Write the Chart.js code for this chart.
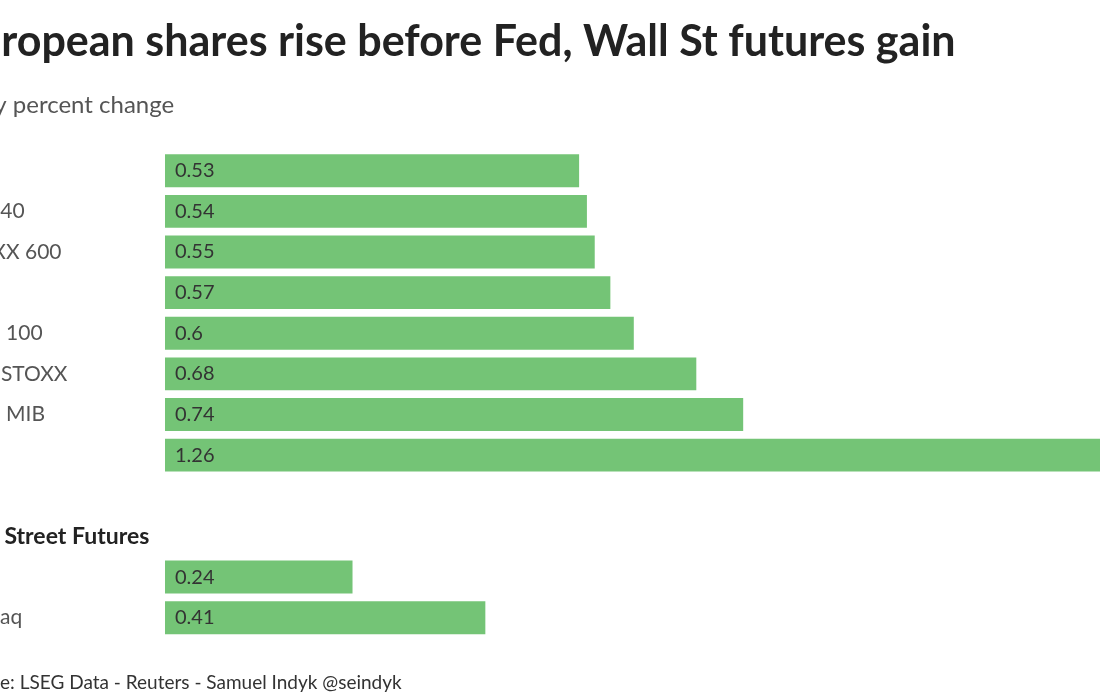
<!DOCTYPE html>
<html><head><meta charset="utf-8">
<script src="https://cdn.jsdelivr.net/npm/chart.js@4"></script>
<style>
html,body{margin:0;padding:0;width:1100px;height:700px;overflow:hidden;background:#fff}
#wrap{position:absolute;left:-67px;top:0;width:1404px;height:700px}
</style></head><body>
<div id="wrap"><canvas id="c" width="1404" height="700"></canvas></div>
<script>
const titleText = "European shares rise before Fed, Wall St futures gain";
const subtitleText = "Daily percent change";
const sourceText = "Source: LSEG Data - Reuters - Samuel Indyk @seindyk";
const europeLabels = ["DAX", "CAC 40", "STOXX 600", "AEX", "FTSE 100", "Euro STOXX", "FTSE MIB", "SMI"];
const europeValues = [0.53, 0.54, 0.55, 0.57, 0.6, 0.68, 0.74, 1.26];
const usHeader = "Wall Street Futures";
const usLabels = ["Dow", "Nasdaq"];
const usValues = [0.24, 0.41];

const FONT = "Lato, 'Open Sans', sans-serif";
const categories = [...europeLabels, "", usHeader, ...usLabels];
const values = [...europeValues, null, null, ...usValues];
const headerIndex = europeLabels.length + 1;

const valueLabels = {
  id: 'valueLabels',
  afterDatasetsDraw(chart) {
    const ctx = chart.ctx;
    const meta = chart.getDatasetMeta(0);
    ctx.save();
    ctx.font = "400 20px " + FONT;
    ctx.fillStyle = "#333";
    ctx.textAlign = "left";
    ctx.textBaseline = "middle";
    meta.data.forEach((bar, i) => {
      const v = values[i];
      if (v === null) return;
      ctx.fillText(String(v), bar.base + 10, bar.y);
    });
    ctx.restore();
  }
};
const sourcePlugin = {
  id: 'sourceNote',
  afterDraw(chart) {
    const ctx = chart.ctx;
    ctx.save();
    ctx.font = "400 19px " + FONT;
    ctx.fillStyle = "#333";
    ctx.textAlign = "left";
    ctx.textBaseline = "alphabetic";
    ctx.fillText(sourceText, chart.options.layout.padding.left, 689);
    ctx.restore();
  }
};

new Chart(document.getElementById('c'), {
  type: 'bar',
  data: {
    labels: categories,
    datasets: [{
      data: values,
      backgroundColor: '#74c476',
      borderWidth: 0,
      barPercentage: 0.81,
      categoryPercentage: 1
    }]
  },
  options: {
    indexAxis: 'y',
    responsive: false,
    animation: false,
    layout: { padding: { left: 20, right: 0, top: 0, bottom: 62 } },
    plugins: {
      legend: { display: false },
      tooltip: { enabled: false },
      title: {
        display: true, text: titleText, align: 'start', color: '#222',
        font: { family: FONT, size: 43, weight: 'bold' },
        padding: { top: 16, bottom: 0 }
      },
      subtitle: {
        display: true, text: subtitleText, align: 'start', color: '#555',
        font: { family: FONT, size: 24, weight: '400' },
        padding: { top: 23, bottom: 31 }
      }
    },
    scales: {
      x: { display: false, min: 0, max: 1.5 },
      y: {
        grid: { display: false },
        border: { display: false },
        ticks: {
          autoSkip: false,
          crossAlign: 'far',
          padding: 0,
          color: (c) => c.index === headerIndex ? '#222' : '#555',
          font: (c) => c.index === headerIndex
            ? { family: FONT, size: 23, weight: 'bold' }
            : { family: FONT, size: 21, weight: '400' }
        },
        afterFit(s) { s.width = 212; }
      }
    }
  },
  plugins: [valueLabels, sourcePlugin]
});
</script>
</body></html>
